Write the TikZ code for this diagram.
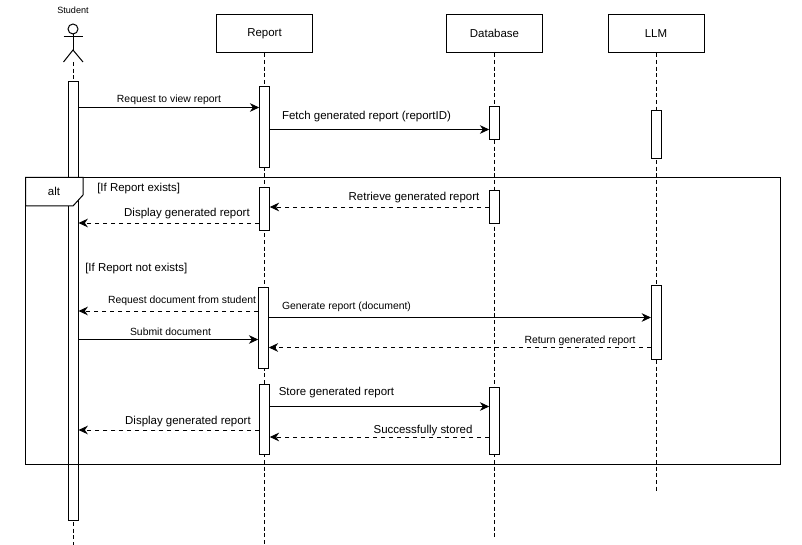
\documentclass[tikz,border=0pt]{standalone}
\usepackage{fontspec}
\setmainfont{Liberation Sans}
\usetikzlibrary{arrows.meta}

\tikzset{
  head/.style={draw, line width=0.75pt, fill=white, minimum width=72pt, minimum height=29pt, inner sep=0pt, font=\fontsize{8.6}{11}\selectfont},
  bar/.style={draw, line width=0.75pt, fill=white, minimum width=7.2pt, inner sep=0pt},
  life/.style={densely dashed, line width=0.7pt},
  msg/.style={line width=0.75pt, -{Stealth[length=7pt,width=6.5pt]}},
  back/.style={line width=0.7pt, dashed, -{Stealth[length=7pt,width=6.5pt]}},
  big/.style={inner sep=0pt, font=\fontsize{8.6}{11}\selectfont},
  small/.style={inner sep=0pt, font=\fontsize{7.8}{9}\selectfont}
}

\begin{document}
\begin{tikzpicture}[x=0.75pt, y=-0.75pt]
\useasboundingbox (0, 0) rectangle (802, 545);

\node[head] (report) at (264.5, 33.5) {Report};
\node[head] (database) at (494.5, 33.5) {Database};
\node[head] (llm) at (656, 33.5) {LLM};

\node[inner sep=0pt, font=\fontsize{6.8}{8}\selectfont] (student) at (73, 10) {Student};
\node[draw, line width=0.75pt, circle, minimum size=7.5pt, inner sep=0pt] (studentHead) at (73, 29) {};
\coordinate (studentHip) at (73, 50);
\coordinate (studentFoot) at (73, 62);
\coordinate (studentEnd) at (73, 545);
\coordinate (reportEnd) at (264.5, 545);
\coordinate (databaseEnd) at (494.5, 538);
\coordinate (llmEnd) at (656, 492);

\draw[line width=0.75pt] (studentHead.south) -- (studentHip);
\draw[line width=0.75pt] (63.5, 37) -- (83, 37);
\draw[line width=0.75pt] (63.5, 62) -- (studentHip) -- (83, 62);

\draw[life] (studentFoot) -- (studentEnd);
\draw[life] (report.south) -- (reportEnd);
\draw[life] (database.south) -- (databaseEnd);
\draw[life] (llm.south) -- (llmEnd);

\node[bar, minimum height=329.25pt] (studentBar) at (73.25, 301.25) {};
\node[bar, minimum height=60.75pt] (reportA) at (264.5, 127) {};
\node[bar, minimum height=24.4pt] (databaseA) at (494.5, 122.75) {};
\node[bar, minimum height=36pt] (llmA) at (656.25, 134.25) {};
\node[bar, minimum height=31.9pt] (reportB) at (264.5, 208.75) {};
\node[bar, minimum height=24.4pt] (databaseB) at (494.5, 206.75) {};
\node[bar, minimum height=60.75pt] (reportC) at (263.5, 327.5) {};
\node[bar, minimum height=55.5pt] (llmB) at (656.25, 322) {};
\node[bar, minimum height=52.5pt] (reportD) at (264.5, 419.5) {};
\node[bar, minimum height=50.25pt] (databaseC) at (494.5, 421) {};

\draw[line width=0.75pt] (25.5, 177.5) rectangle (780.5, 464);
\draw[line width=0.75pt, fill=white] (25.5, 177.5) -- (83, 177.5) -- (83, 195) -- (73, 206) -- (25.5, 206) -- cycle;
\node[big] (alt) at (54, 191) {alt};

\node[big, anchor=west] (ifExists) at (97, 189) {[If Report exists]};
\node[big, anchor=west] (ifNot) at (85, 269) {[If Report not exists]};

\draw[msg] (studentBar.east |- 0, 107.5) -- (reportA.west |- 0, 107.5);
\node[small] (requestLabel) at (169, 100) {Request to view report};
\draw[msg] (reportA.east |- 0, 129.5) -- (databaseA.west |- 0, 129.5);
\node[big] (fetchLabel) at (366.5, 117) {Fetch generated report (reportID)};
\draw[back] (databaseB.west |- 0, 207) -- (reportB.east |- 0, 207);
\node[big] (retrieveLabel) at (414, 198) {Retrieve generated report};
\draw[back] (reportB.west |- 0, 223) -- (studentBar.east |- 0, 223);
\node[big] (displayLabelA) at (187, 214) {Display generated report};
\draw[back] (reportC.west |- 0, 311) -- (studentBar.east |- 0, 311);
\node[small] (askLabel) at (182, 301) {Request document from student};
\draw[msg] (reportC.east |- 0, 317.5) -- (llmB.west |- 0, 317.5);
\node[small] (generateLabel) at (346.5, 306.5) {Generate report (document)};
\draw[msg] (studentBar.east |- 0, 339.5) -- (reportC.west |- 0, 339.5);
\node[small] (submitLabel) at (170.5, 331.5) {Submit document};
\draw[back] (llmB.west |- 0, 347.5) -- (reportC.east |- 0, 347.5);
\node[small] (returnLabel) at (580, 340.5) {Return generated report};
\draw[msg] (reportD.east |- 0, 406.5) -- (databaseC.west |- 0, 406.5);
\node[big] (storeLabel) at (336.5, 393) {Store generated report};
\draw[back] (reportD.west |- 0, 430) -- (studentBar.east |- 0, 430);
\node[big] (displayLabelB) at (188, 421.5) {Display generated report};
\draw[back] (databaseC.west |- 0, 437) -- (reportD.east |- 0, 437);
\node[big] (storedLabel) at (423, 431) {Successfully stored};
\end{tikzpicture}
\end{document}
